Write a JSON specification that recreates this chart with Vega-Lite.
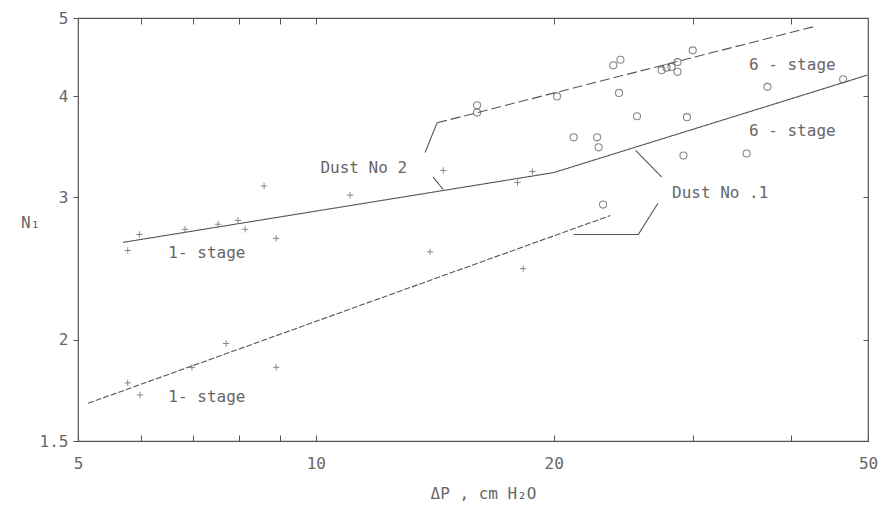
{
  "$schema": "https://vega.github.io/schema/vega-lite/v6.json",
  "width": 790,
  "height": 423,
  "autosize": "none",
  "padding": {"left": 78, "top": 18, "right": 23, "bottom": 76},
  "background": "white",
  "config": {
    "view": {"stroke": "#555", "strokeWidth": 1.2},
    "font": "DejaVu Sans",
    "axis": {"grid": false, "domain": false, "labelFont": "DejaVu Sans Mono", "labelColor": "#666", "labelFontSize": 16, "tickColor": "#555", "titleFont": "DejaVu Sans Mono", "titleColor": "#666", "titleFontWeight": "normal", "titleFontSize": 16}
  },
  "datasets": {
    "points": [
      {"dp": 5.78, "n1": 2.58, "series": "Dust No 2, 1-stage"},
      {"dp": 5.98, "n1": 2.70, "series": "Dust No 2, 1-stage"},
      {"dp": 6.83, "n1": 2.74, "series": "Dust No 2, 1-stage"},
      {"dp": 7.52, "n1": 2.78, "series": "Dust No 2, 1-stage"},
      {"dp": 7.97, "n1": 2.81, "series": "Dust No 2, 1-stage"},
      {"dp": 8.14, "n1": 2.74, "series": "Dust No 2, 1-stage"},
      {"dp": 8.60, "n1": 3.10, "series": "Dust No 2, 1-stage"},
      {"dp": 8.91, "n1": 2.67, "series": "Dust No 2, 1-stage"},
      {"dp": 11.05, "n1": 3.02, "series": "Dust No 2, 1-stage"},
      {"dp": 14.5, "n1": 3.24, "series": "Dust No 2, 1-stage"},
      {"dp": 18.0, "n1": 3.13, "series": "Dust No 2, 1-stage"},
      {"dp": 18.8, "n1": 3.23, "series": "Dust No 2, 1-stage"},
      {"dp": 5.78, "n1": 1.77, "series": "Dust No 1, 1-stage"},
      {"dp": 5.99, "n1": 1.71, "series": "Dust No 1, 1-stage"},
      {"dp": 6.97, "n1": 1.85, "series": "Dust No 1, 1-stage"},
      {"dp": 7.70, "n1": 1.98, "series": "Dust No 1, 1-stage"},
      {"dp": 8.91, "n1": 1.85, "series": "Dust No 1, 1-stage"},
      {"dp": 13.95, "n1": 2.57, "series": "Dust No 1, 1-stage"},
      {"dp": 18.3, "n1": 2.45, "series": "Dust No 1, 1-stage"},
      {"dp": 16.0, "n1": 3.90, "series": "Dust No 2, 6-stage"},
      {"dp": 16.0, "n1": 3.82, "series": "Dust No 2, 6-stage"},
      {"dp": 20.2, "n1": 4.00, "series": "Dust No 2, 6-stage"},
      {"dp": 23.8, "n1": 4.37, "series": "Dust No 2, 6-stage"},
      {"dp": 24.3, "n1": 4.44, "series": "Dust No 2, 6-stage"},
      {"dp": 24.2, "n1": 4.04, "series": "Dust No 2, 6-stage"},
      {"dp": 27.4, "n1": 4.31, "series": "Dust No 2, 6-stage"},
      {"dp": 27.8, "n1": 4.34, "series": "Dust No 2, 6-stage"},
      {"dp": 28.2, "n1": 4.35, "series": "Dust No 2, 6-stage"},
      {"dp": 28.7, "n1": 4.41, "series": "Dust No 2, 6-stage"},
      {"dp": 28.7, "n1": 4.29, "series": "Dust No 2, 6-stage"},
      {"dp": 30.0, "n1": 4.56, "series": "Dust No 2, 6-stage"},
      {"dp": 37.3, "n1": 4.11, "series": "Dust No 2, 6-stage"},
      {"dp": 46.5, "n1": 4.20, "series": "Dust No 2, 6-stage"},
      {"dp": 21.2, "n1": 3.56, "series": "Dust No 1, 6-stage"},
      {"dp": 22.7, "n1": 3.56, "series": "Dust No 1, 6-stage"},
      {"dp": 22.8, "n1": 3.46, "series": "Dust No 1, 6-stage"},
      {"dp": 25.5, "n1": 3.78, "series": "Dust No 1, 6-stage"},
      {"dp": 29.5, "n1": 3.77, "series": "Dust No 1, 6-stage"},
      {"dp": 29.2, "n1": 3.38, "series": "Dust No 1, 6-stage"},
      {"dp": 35.1, "n1": 3.40, "series": "Dust No 1, 6-stage"},
      {"dp": 23.1, "n1": 2.94, "series": "Dust No 1, 6-stage"}
    ],
    "lines": [
      {"dp": 14.24, "n1": 3.71, "line": "Dust No 2, 6-stage fit", "style": "dash", "ord": 1},
      {"dp": 43.1, "n1": 4.89, "line": "Dust No 2, 6-stage fit", "style": "dash", "ord": 2},
      {"dp": 5.70, "n1": 2.64, "line": "Dust No 2, 1-stage fit", "style": "solid", "ord": 1},
      {"dp": 20.0, "n1": 3.22, "line": "Dust No 2, 1-stage fit", "style": "solid", "ord": 2},
      {"dp": 20.0, "n1": 3.22, "line": "Dust No 1, 6-stage fit", "style": "solid", "ord": 1},
      {"dp": 49.9, "n1": 4.25, "line": "Dust No 1, 6-stage fit", "style": "solid", "ord": 2},
      {"dp": 5.15, "n1": 1.67, "line": "Dust No 1, 1-stage fit", "style": "fine", "ord": 1},
      {"dp": 23.6, "n1": 2.85, "line": "Dust No 1, 1-stage fit", "style": "fine", "ord": 2},
      {"dp": 13.75, "n1": 3.41, "line": "leader 2a", "style": "solid", "ord": 1},
      {"dp": 14.24, "n1": 3.71, "line": "leader 2a", "style": "solid", "ord": 2},
      {"dp": 14.07, "n1": 3.18, "line": "leader 2b", "style": "solid", "ord": 1},
      {"dp": 14.49, "n1": 3.07, "line": "leader 2b", "style": "solid", "ord": 2},
      {"dp": 27.4, "n1": 3.18, "line": "leader 1a", "style": "solid", "ord": 1},
      {"dp": 25.4, "n1": 3.43, "line": "leader 1a", "style": "solid", "ord": 2},
      {"dp": 27.1, "n1": 2.95, "line": "leader 1b", "style": "solid", "ord": 1},
      {"dp": 25.6, "n1": 2.70, "line": "leader 1b", "style": "solid", "ord": 2},
      {"dp": 21.2, "n1": 2.70, "line": "leader 1b", "style": "solid", "ord": 3}
    ],
    "labels": [
      {"dp": 11.5, "n1": 3.26, "text": "Dust  No 2"},
      {"dp": 7.28, "n1": 2.56, "text": "1- stage"},
      {"dp": 7.28, "n1": 1.70, "text": "1- stage"},
      {"dp": 40.1, "n1": 4.37, "text": "6 - stage"},
      {"dp": 40.1, "n1": 3.62, "text": "6 - stage"},
      {"dp": 32.5, "n1": 3.04, "text": "Dust  No .1"}
    ]
  },
  "layer": [
    {
      "data": {"name": "lines"},
      "mark": {"type": "line", "color": "#555", "strokeWidth": 1.1},
      "encoding": {
        "x": {"field": "dp", "type": "quantitative", "scale": {"type": "log", "domain": [5, 50]},
          "axis": {"orient": "bottom", "values": [5, 6, 7, 8, 9, 10, 20, 30, 40, 50], "labelExpr": "indexof([5,10,20,50], datum.value) >= 0 ? datum.label : ''", "tickSize": -6, "labelPadding": 20, "labelFlush": false, "title": "ΔP , cm H₂O", "titleX": 405, "titleY": 52, "titleBaseline": "middle", "titleAnchor": null}},
        "y": {"field": "n1", "type": "quantitative", "scale": {"type": "log", "domain": [1.5, 5]},
          "axis": {"orient": "left", "values": [1.5, 2, 3, 4, 5], "tickSize": 5, "labelPadding": 5, "labelFlush": false, "title": "N₁", "titleAngle": 0, "titleX": -48, "titleY": 204, "titleAlign": "center", "titleBaseline": "middle"}},
        "detail": {"field": "line"},
        "order": {"field": "ord"},
        "strokeDash": {"field": "style", "type": "nominal", "scale": {"domain": ["solid", "dash", "fine"], "range": [[1, 0], [10, 4], [6, 2]]}, "legend": null}
      }
    },
    {
      "data": {"name": "points"},
      "transform": [{"filter": "indexof(datum.series, '1-stage') >= 0"}],
      "mark": {"type": "point", "shape": "M-1,0H1M0,-1V1", "filled": false, "color": "#555", "strokeWidth": 1, "size": 40},
      "encoding": {
        "x": {"field": "dp", "type": "quantitative", "scale": {"type": "log", "domain": [5, 50]}, "axis": null},
        "y": {"field": "n1", "type": "quantitative", "scale": {"type": "log", "domain": [1.5, 5]}, "axis": null}
      }
    },
    {
      "data": {"name": "points"},
      "transform": [{"filter": "indexof(datum.series, '6-stage') >= 0"}],
      "mark": {"type": "point", "shape": "circle", "filled": false, "color": "#555", "strokeWidth": 1.1, "size": 50},
      "encoding": {
        "x": {"field": "dp", "type": "quantitative", "scale": {"type": "log", "domain": [5, 50]}, "axis": null},
        "y": {"field": "n1", "type": "quantitative", "scale": {"type": "log", "domain": [1.5, 5]}, "axis": null}
      }
    },
    {
      "data": {"name": "labels"},
      "mark": {"type": "text", "font": "DejaVu Sans Mono", "fontSize": 16, "color": "#666", "align": "center", "baseline": "middle"},
      "encoding": {
        "x": {"field": "dp", "type": "quantitative", "scale": {"type": "log", "domain": [5, 50]},
          "axis": {"orient": "top", "values": [6, 7, 8, 9, 10, 20, 30, 40], "labels": false, "tickSize": -6, "title": null}},
        "y": {"field": "n1", "type": "quantitative", "scale": {"type": "log", "domain": [1.5, 5]},
          "axis": {"orient": "right", "values": [2, 3, 4], "labels": false, "tickSize": -5, "title": null}},
        "text": {"field": "text"}
      }
    }
  ],
  "resolve": {"axis": {"x": "independent", "y": "independent"}}
}
